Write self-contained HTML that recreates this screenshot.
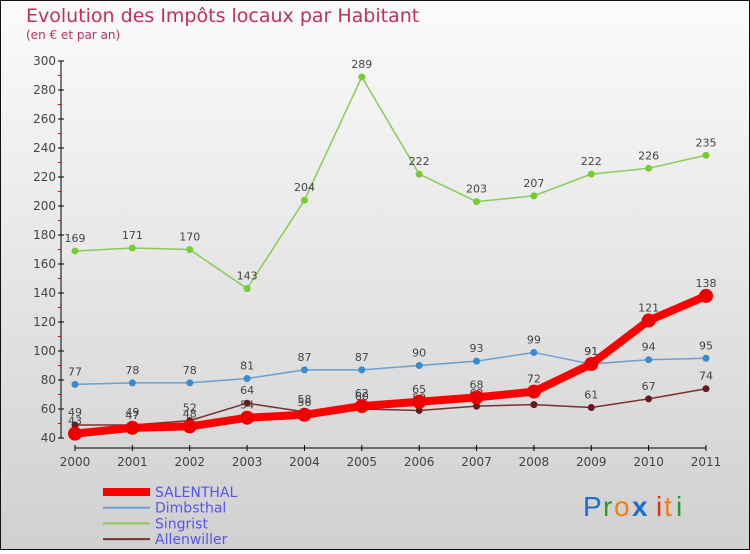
<!DOCTYPE html>
<html><head><meta charset="utf-8"><style>
html,body{margin:0;padding:0}
body{width:750px;height:550px;overflow:hidden;font-family:"DejaVu Sans","Liberation Sans",sans-serif}
</style></head><body>
<svg id="c" width="750" height="550" xmlns="http://www.w3.org/2000/svg">
<defs><linearGradient id="bg" x1="0" y1="0" x2="0" y2="1"><stop offset="0" stop-color="#fbfbfb"/><stop offset="1" stop-color="#d0d0d0"/></linearGradient></defs>
<rect x="0.5" y="0.5" width="749" height="549" fill="url(#bg)" stroke="#111"/>
<text x="26" y="22" font-size="19" fill="#c0305a">Evolution des Impôts locaux par Habitant</text>
<text x="26" y="39" font-size="12" fill="#c0305a">(en € et par an)</text>
<g id="plot"></g>
<g id="legend"></g>
<g font-size="28" font-family="Liberation Sans, sans-serif">
<text x="583" y="516" fill="#1a6fd0">P</text><text x="603" y="516" fill="#2a9a2a">r</text><text x="614" y="516" fill="#f08010">o</text><text x="632" y="516" fill="#1a6fd0" font-weight="bold">x</text><text x="656" y="516" fill="#e03010">i</text><text x="664" y="516" fill="#f08010">t</text><text x="676" y="516" fill="#2a9a2a">i</text>
</g>
</svg>
<script>
const years=["2000","2001","2002","2003","2004","2005","2006","2007","2008","2009","2010","2011"];
const yTicks=[40,60,80,100,120,140,160,180,200,220,240,260,280,300];
const salenthal=[43,47,48,54,56,62,65,68,72,91,121,138];
const dimbsthal=[77,78,78,81,87,87,90,93,99,91,94,95];
const singrist=[169,171,170,143,204,289,222,203,207,222,226,235];
const allenwiller=[49,49,52,64,58,60,59,62,63,61,67,74];
const NS="http://www.w3.org/2000/svg";
const plot=document.getElementById('plot'),legend=document.getElementById('legend');
const X=i=>75+i*(706-75)/11;
const Y=v=>438-(v-40)*(438-61)/260;
function mk(tag,at,parent){const e=document.createElementNS(NS,tag);for(const k in at)e.setAttribute(k,at[k]);parent.appendChild(e);return e;}
let ax=mk('line',{x1:61,y1:Y(300),x2:61,y2:Y(40),stroke:'#000'},plot);


let bx=mk('line',{x1:X(0),y1:448,x2:X(11),y2:448,stroke:'#000'},plot);


for(let v=50;v<300;v+=20){mk('line',{x1:58,y1:Y(v),x2:61,y2:Y(v),stroke:'#e00'},plot);}
yTicks.forEach(v=>{mk('line',{x1:58,y1:Y(v),x2:64,y2:Y(v),stroke:'#000'},plot);
 const t=mk('text',{x:56,y:Y(v)+4,'font-size':12,'text-anchor':'end',fill:'#444'},plot);t.textContent=v;
 
 });
years.forEach((y,i)=>{mk('line',{x1:X(i),y1:445,x2:X(i),y2:451,stroke:'#000'},plot);
 const t=mk('text',{x:X(i),y:466,'font-size':12,'text-anchor':'middle',fill:'#444'},plot);t.textContent=y;
 
 });
const series=[
 {name:'Singrist',d:singrist,c:'#88cc55',w:1.5,r:3.5,f:'#77cc33'},
 {name:'Dimbsthal',d:dimbsthal,c:'#6aa0d0',w:1.5,r:3.5,f:'#3a8ad0'},
 {name:'Allenwiller',d:allenwiller,c:'#7a3030',w:1.5,r:3.5,f:'#6a1818'},
 {name:'SALENTHAL',d:salenthal,c:'#ff0000',w:8,r:7,f:'#ee0000'}];
series.forEach(s=>{
 const g=mk('g',{},plot);
 
 
 mk('polyline',{points:s.d.map((v,i)=>X(i)+','+Y(v)).join(' '),fill:'none',stroke:s.c,'stroke-width':s.w,'stroke-linejoin':'round'},g);
 s.d.forEach((v,i)=>{const p=mk('circle',{cx:X(i),cy:Y(v),r:s.r,fill:s.f},g);
  
  
  const t=mk('text',{x:X(i),y:Y(v)-9,'font-size':11,'text-anchor':'middle',fill:'#444'},g);t.textContent=v;});
});
const leg=[['SALENTHAL','#ff0000',8],['Dimbsthal','#6aa0d0',2],['Singrist','#88cc55',2],['Allenwiller','#7a3030',2]];
leg.forEach((l,i)=>{const y=492+i*15.7;
 const g=mk('g',{},legend);
 
 
 mk('line',{x1:103,y1:y,x2:150,y2:y,stroke:l[1],'stroke-width':l[2]},g);
 const t=mk('text',{x:155,y:y+5,'font-size':14,fill:'#5555ee'},g);t.textContent=l[0];});
</script>
</body></html>
